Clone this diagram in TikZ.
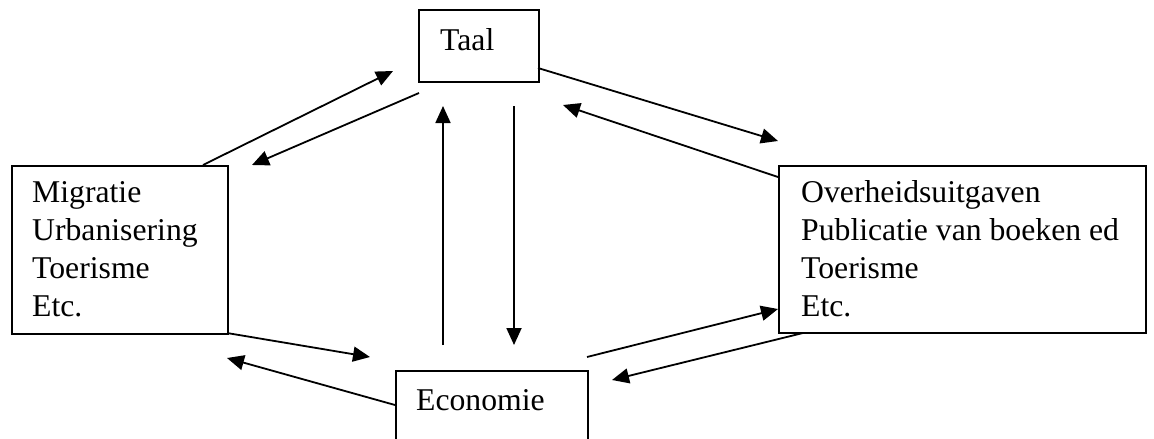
\documentclass[tikz,border=0pt]{standalone}
\usepackage{fontspec}
\setmainfont{Liberation Serif}
\usetikzlibrary{arrows.meta}
\begin{document}
\begin{tikzpicture}[x=1pt,y=-1pt,
  box/.style={draw,line width=1.8pt,inner sep=0pt,anchor=north west},
  lbl/.style={anchor=base west,inner sep=0pt,font=\fontsize{31.7}{37.8}\selectfont,align=left},
  arr/.style={line width=1.8pt,-{Triangle[length=17pt,width=15pt]}}]
\useasboundingbox (0,0) rectangle (1154,439);
% boxes
\node[box,minimum width=120pt,minimum height=72pt] (taal) at (418,9) {};
\node[box,minimum width=216pt,minimum height=168pt] (mig) at (11,165) {};
\node[box,minimum width=367pt,minimum height=167pt] (ovh) at (778,165) {};
\node[box,minimum width=192pt,minimum height=95pt] (eco) at (395,370) {};
% texts (base anchor = baseline of last line)
\node[lbl] (taalt) at (440,50) {Taal};
\node[lbl] (migt) at (32,316) {Migratie\\Urbanisering\\Toerisme\\Etc.};
\node[lbl] (ovht) at (801,316) {Overheidsuitgaven\\Publicatie van boeken ed\\Toerisme\\Etc.};
\node[lbl] (ecot) at (416,410) {Economie};
% connector end points
\coordinate (m1) at (203,165); \coordinate (t1) at (393,71);
\coordinate (t2) at (419,93);  \coordinate (m2) at (252,165);
\coordinate (t3) at (538,68);  \coordinate (o3) at (778,141);
\coordinate (o4) at (778,177); \coordinate (t4) at (563,105);
\coordinate (e5) at (443,345); \coordinate (t5) at (443,106);
\coordinate (t6) at (514,106); \coordinate (e6) at (514,345);
\coordinate (m7) at (227,333); \coordinate (e7) at (370,357);
\coordinate (e8) at (395,405); \coordinate (m8) at (227,358);
\coordinate (e9) at (587,357); \coordinate (o9) at (778,309);
\coordinate (o10) at (803,333); \coordinate (e10) at (612,380);
% connectors
\draw[arr] (m1) -- (t1);
\draw[arr] (t2) -- (m2);
\draw[arr] (t3) -- (o3);
\draw[arr] (o4) -- (t4);
\draw[arr] (e5) -- (t5);
\draw[arr] (t6) -- (e6);
\draw[arr] (m7) -- (e7);
\draw[arr] (e8) -- (m8);
\draw[arr] (e9) -- (o9);
\draw[arr] (o10) -- (e10);
\end{tikzpicture}
\end{document}
